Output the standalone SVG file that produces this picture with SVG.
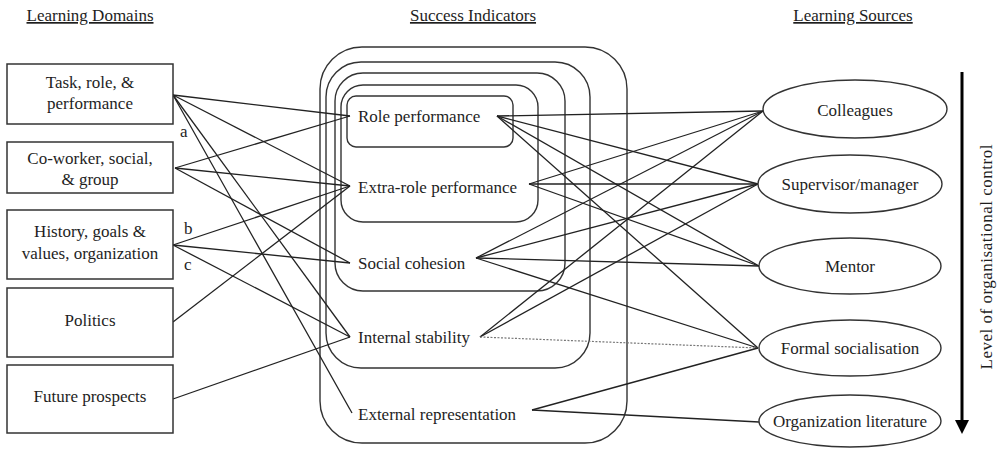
<svg xmlns="http://www.w3.org/2000/svg" width="1001" height="449" viewBox="0 0 1001 449" font-family="'Liberation Serif', 'Times New Roman', serif" font-size="17">
<style>
text{font-family:'Liberation Serif','Times New Roman',serif;font-size:17px;fill:#1e1e1e}
.hd{text-decoration:underline}
.c{text-anchor:middle}
.box{fill:#fff;stroke:#333;stroke-width:1.5}
.nest{fill:none;stroke:#333;stroke-width:1.4}
.ell{fill:#fff;stroke:#333;stroke-width:1.4}
#connectors line{stroke:#222;stroke-width:1.3}
#connectors line.dot{stroke:#777;stroke-dasharray:2 1.5;stroke-width:1.2}
</style>
<rect width="1001" height="449" fill="#fff"/>

<g id="headers" font-family="'Liberation Serif', serif">
<text class="hd" x="90" y="21" text-anchor="middle">Learning Domains</text>
<text class="hd" x="473" y="21" text-anchor="middle">Success Indicators</text>
<text class="hd" x="853" y="21" text-anchor="middle">Learning Sources</text>
</g>

<g id="indicator-frames">
<rect class="nest" x="320" y="47" width="307" height="396" rx="42"/>
<rect class="nest" x="326" y="62" width="264" height="306" rx="35"/>
<rect class="nest" x="335" y="73" width="230" height="218" rx="28"/>
<rect class="nest" x="341" y="85" width="197" height="137" rx="22"/>
<rect class="nest" x="347" y="96" width="166" height="51" rx="9"/>
</g>

<g id="connectors">
<line x1="173" y1="95" x2="350" y2="116"/>
<line x1="173" y1="95" x2="350" y2="186"/>
<line x1="173" y1="95" x2="350" y2="337"/>
<line x1="173" y1="95" x2="352" y2="413"/>
<line x1="175" y1="168" x2="350" y2="116"/>
<line x1="175" y1="168" x2="350" y2="186"/>
<line x1="175" y1="168" x2="350" y2="263"/>
<line x1="173" y1="245" x2="350" y2="186"/>
<line x1="173" y1="245" x2="350" y2="263"/>
<line x1="173" y1="245" x2="350" y2="337"/>
<line x1="173" y1="322" x2="350" y2="186"/>
<line x1="173" y1="399" x2="350" y2="337"/>

<line x1="497" y1="116" x2="763" y2="111"/>
<line x1="497" y1="116" x2="758" y2="184"/>
<line x1="497" y1="116" x2="759" y2="266"/>
<line x1="497" y1="116" x2="758" y2="348"/>
<line x1="529" y1="184" x2="763" y2="111"/>
<line x1="529" y1="184" x2="758" y2="184"/>
<line x1="529" y1="184" x2="759" y2="266"/>
<line x1="476" y1="258" x2="763" y2="111"/>
<line x1="476" y1="258" x2="758" y2="184"/>
<line x1="476" y1="258" x2="759" y2="266"/>
<line x1="476" y1="258" x2="758" y2="348"/>
<line x1="480" y1="337" x2="763" y2="111"/>
<line x1="480" y1="337" x2="758" y2="184"/>
<line class="dot" x1="480" y1="337" x2="758" y2="348"/>
<line x1="532" y1="410" x2="758" y2="348"/>
<line x1="532" y1="410" x2="759" y2="422"/>
</g>

<g id="edge-labels" font-family="'Liberation Serif', serif">
<text x="180" y="137">a</text>
<text x="184" y="234">b</text>
<text x="184" y="270">c</text>
</g>

<g id="domain-task" font-family="'Liberation Serif', serif">
<rect class="box" x="7" y="64" width="166" height="60"/>
<text class="c" x="90" y="88">Task, role, &amp;</text>
<text class="c" x="90" y="109">performance</text>
</g>
<g id="domain-coworker" font-family="'Liberation Serif', serif">
<rect class="box" x="7" y="142" width="166" height="51"/>
<text class="c" x="90" y="164">Co-worker, social,</text>
<text class="c" x="90" y="185">&amp; group</text>
</g>
<g id="domain-history" font-family="'Liberation Serif', serif">
<rect class="box" x="7" y="210" width="166" height="69"/>
<text class="c" x="90" y="237">History, goals &amp;</text>
<text class="c" x="90" y="259">values, organization</text>
</g>
<g id="domain-politics" font-family="'Liberation Serif', serif">
<rect class="box" x="7" y="288" width="166" height="69"/>
<text class="c" x="90" y="326">Politics</text>
</g>
<g id="domain-future" font-family="'Liberation Serif', serif">
<rect class="box" x="7" y="365" width="166" height="68"/>
<text class="c" x="90" y="402">Future prospects</text>
</g>

<g id="ind-role" font-family="'Liberation Serif', serif"><text x="358" y="122">Role performance</text></g>
<g id="ind-extra" font-family="'Liberation Serif', serif"><text x="358" y="193">Extra-role performance</text></g>
<g id="ind-social" font-family="'Liberation Serif', serif"><text x="358" y="269">Social cohesion</text></g>
<g id="ind-internal" font-family="'Liberation Serif', serif"><text x="358" y="343">Internal stability</text></g>
<g id="ind-external" font-family="'Liberation Serif', serif"><text x="358" y="420">External representation</text></g>

<g id="src-colleagues" font-family="'Liberation Serif', serif">
<ellipse class="ell" cx="855" cy="109" rx="92" ry="29"/>
<text class="c" x="855" y="116">Colleagues</text>
</g>
<g id="src-supervisor" font-family="'Liberation Serif', serif">
<ellipse class="ell" cx="850" cy="184" rx="92" ry="29"/>
<text class="c" x="850" y="190">Supervisor/manager</text>
</g>
<g id="src-mentor" font-family="'Liberation Serif', serif">
<ellipse class="ell" cx="850" cy="266" rx="91" ry="28"/>
<text class="c" x="850" y="272">Mentor</text>
</g>
<g id="src-formal" font-family="'Liberation Serif', serif">
<ellipse class="ell" cx="850" cy="348" rx="91" ry="28"/>
<text class="c" x="850" y="354">Formal socialisation</text>
</g>
<g id="src-literature" font-family="'Liberation Serif', serif">
<ellipse class="ell" cx="850" cy="421" rx="91" ry="26"/>
<text class="c" x="850" y="427">Organization literature</text>
</g>

<g id="control-axis" font-family="'Liberation Serif', serif">
<line x1="962" y1="72" x2="962" y2="422" stroke="#000" stroke-width="3"/>
<path d="M955,420 L969,420 L962,434 Z" fill="#000"/>
<text transform="translate(992,257) rotate(-90)" text-anchor="middle" textLength="225" lengthAdjust="spacing">Level of organisational control</text>
</g>
</svg>
